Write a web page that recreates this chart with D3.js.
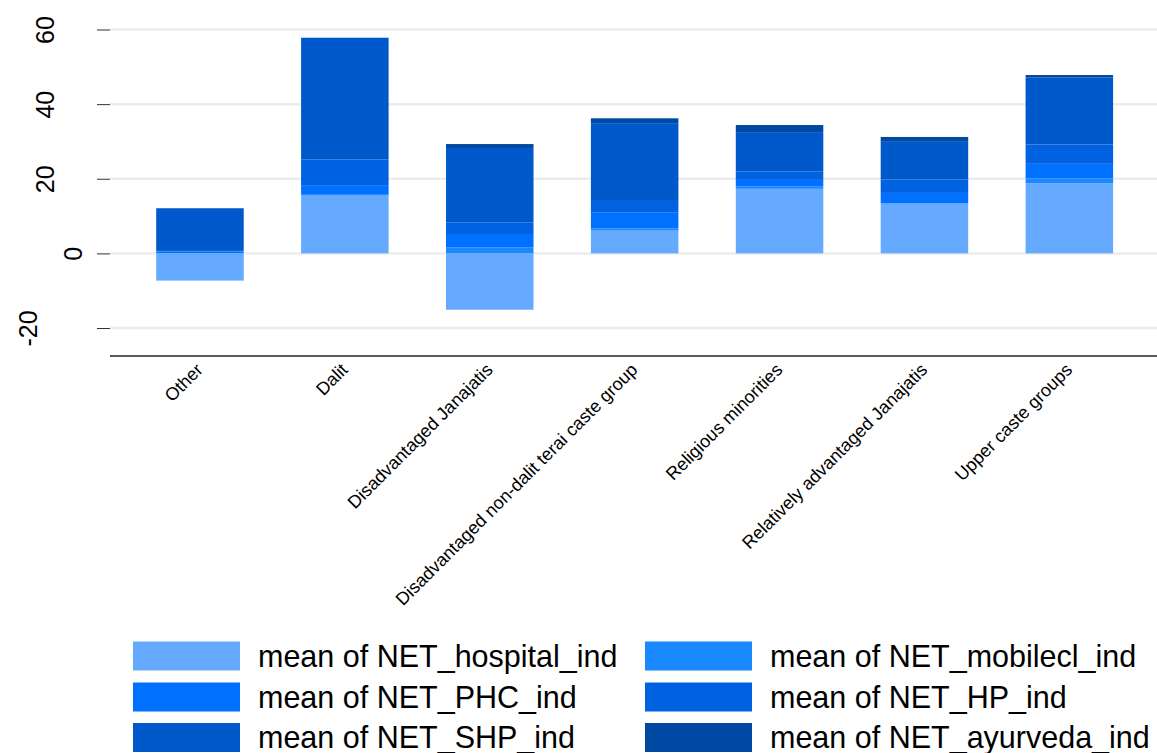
<!DOCTYPE html>
<html>
<head>
<meta charset="utf-8">
<script src="https://cdn.jsdelivr.net/npm/d3@7"></script>
<style>
  html, body { margin: 0; padding: 0; background: #ffffff; }
  svg { display: block; font-family: "Liberation Sans", Arial, sans-serif; }
</style>
</head>
<body>
<svg id="chart" width="1157" height="753"></svg>
<script>
// Caste / ethnic groups along the x axis
const categories = [
  "Other",
  "Dalit",
  "Disadvantaged Janajatis",
  "Disadvantaged non-dalit terai caste group",
  "Religious minorities",
  "Relatively advantaged Janajatis",
  "Upper caste groups"
];

// Mean of each facility indicator per group (stacked in this order)
const hospital = [-7.3, 15.5, -15.1, 6.1, 17.3, 13.3, 18.8];
const mobilecl = [0.1, 0.2, 1.55, 0.6, 0.6, 0.1, 1.3];
const phc      = [0.4, 2.6, 3.65, 4.2, 1.8, 2.8, 3.9];
const hp       = [0.4, 6.9, 3.05, 3.4, 2.2, 3.6, 5.2];
const shp      = [11.2, 32.6, 20.0, 20.6, 10.6, 10.1, 17.9];
const ayurveda = [0.0, 0.0, 1.05, 1.3, 1.9, 1.3, 0.7];

const seriesKeys = ["hospital", "mobilecl", "PHC", "HP", "SHP", "ayurveda"];
const seriesLabels = [
  "mean of NET_hospital_ind",
  "mean of NET_mobilecl_ind",
  "mean of NET_PHC_ind",
  "mean of NET_HP_ind",
  "mean of NET_SHP_ind",
  "mean of NET_ayurveda_ind"
];
const seriesColors = ["#66aaff", "#1a88ff", "#0070ff", "#0062e0", "#0059ca", "#0049a3"];

const yTicks = [-20, 0, 20, 40, 60];
const yTickLabels = ["-20", "0", "20", "40", "60"];

// Row table for d3.stack
const seriesArrays = [hospital, mobilecl, phc, hp, shp, ayurveda];
const rows = categories.map((c, i) => {
  const r = { category: c };
  seriesKeys.forEach((k, j) => { r[k] = seriesArrays[j][i]; });
  return r;
});

const svg = d3.select("#chart");

const plotLeft = 110, plotRight = 1157;
const x = d3.scaleBand()
  .domain(categories)
  .range([127.5, 127.5 + 144.9 * categories.length])
  .paddingInner(0.396)
  .paddingOuter(0.198);

const y = d3.scaleLinear()
  .domain([-27.5, 60])
  .range([356, 29.5]);

// Horizontal grid lines
svg.append("g")
  .selectAll("line")
  .data(yTicks)
  .join("line")
  .attr("x1", plotLeft)
  .attr("x2", plotRight)
  .attr("y1", d => y(d))
  .attr("y2", d => y(d))
  .attr("stroke", "#ececec")
  .attr("stroke-width", 2.5);

// Stacked bars (negative values stack below zero)
const stack = d3.stack()
  .keys(seriesKeys)
  .offset(d3.stackOffsetDiverging);
const layers = stack(rows);

svg.append("g")
  .selectAll("g")
  .data(layers)
  .join("g")
  .attr("fill", (d, i) => seriesColors[i])
  .selectAll("rect")
  .data(d => d.filter(s => s[1] !== s[0]))
  .join("rect")
  .attr("x", d => x(d.data.category))
  .attr("width", x.bandwidth())
  .attr("y", d => y(Math.max(d[0], d[1])))
  .attr("height", d => Math.abs(y(d[0]) - y(d[1])));

// Y axis: ticks and rotated labels, no spine
const yAxis = d3.axisLeft(y)
  .tickValues(yTicks)
  .tickSize(13)
  .tickPadding(0)
  .tickFormat((d, i) => yTickLabels[i]);
const yg = svg.append("g")
  .attr("transform", `translate(${plotLeft},0)`)
  .call(yAxis);
yg.select(".domain").remove();
yg.selectAll(".tick line").attr("stroke", "#333").attr("stroke-width", 1);
yg.selectAll(".tick text")
  .attr("x", null).attr("dy", null)
  .attr("text-anchor", "middle")
  .attr("font-size", 25)
  .attr("fill", "#000")
  .attr("transform", function () {
    // shorter labels sit closer to the tick
    const len = this.getComputedTextLength();
    const centre = 100.4 - 2.0 * len;
    return `translate(${centre + 9 - plotLeft},0) rotate(-90)`;
  });

// X axis line and slanted category labels
const xAxis = d3.axisBottom(x).tickSize(0).tickPadding(0);
const xg = svg.append("g")
  .attr("transform", `translate(0,${y(-27.5)})`)
  .call(xAxis);
xg.select(".domain")
  .attr("d", `M${plotLeft},0H${plotRight}`)
  .attr("stroke", "#222")
  .attr("stroke-width", 1.5);
xg.selectAll(".tick text")
  .attr("y", null).attr("dy", null)
  .attr("transform", "translate(4,15) rotate(-45)")
  .attr("text-anchor", "end")
  .attr("font-size", 18)
  .attr("fill", "#000");

// Legend: two columns, three rows
const legend = svg.append("g");
const colX = [133, 645];
const rowY = [656, 697, 737.5];
seriesKeys.forEach((k, i) => {
  const cx = colX[i % 2];
  const cy = rowY[Math.floor(i / 2)];
  legend.append("rect")
    .attr("x", cx)
    .attr("y", cy - 14.5)
    .attr("width", 107)
    .attr("height", 29)
    .attr("fill", seriesColors[i]);
  legend.append("text")
    .attr("x", cx + 125)
    .attr("y", cy)
    .attr("dy", "0.36em")
    .attr("font-size", 30.5)
    .attr("fill", "#000")
    .text(seriesLabels[i]);
});
</script>
</body>
</html>
